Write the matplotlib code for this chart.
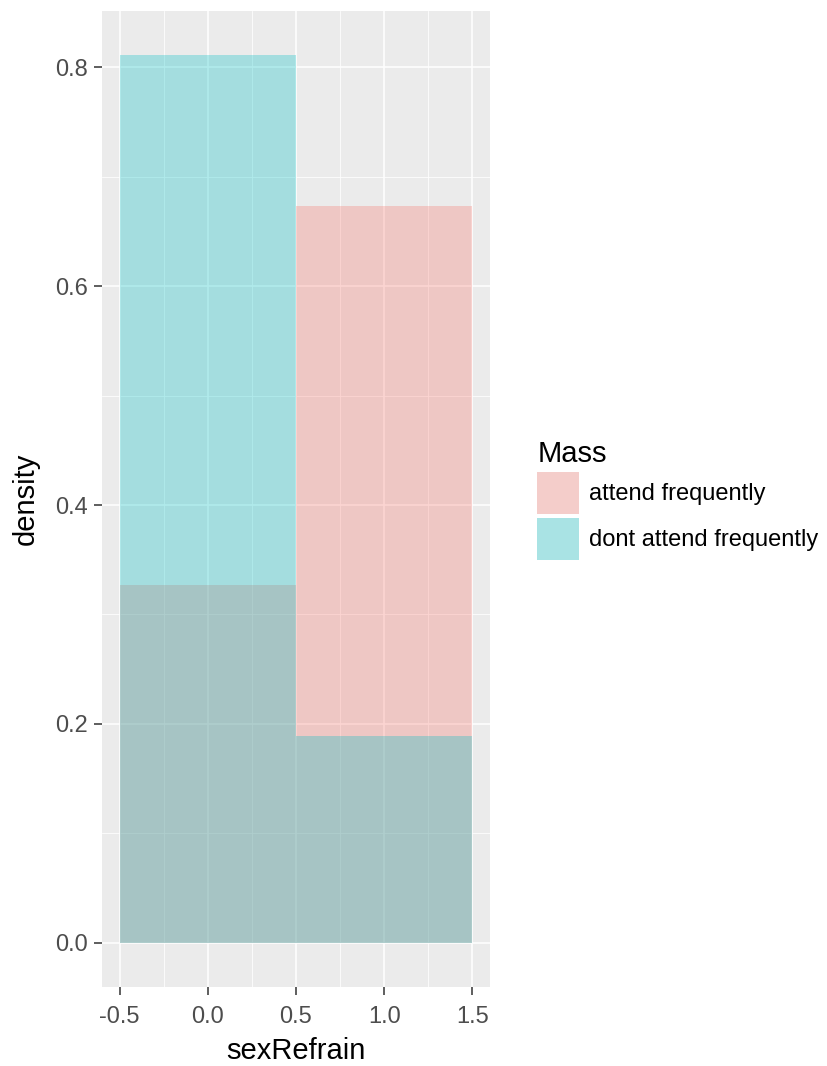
import matplotlib
matplotlib.use("Agg")
import numpy as np
import matplotlib.pyplot as plt
from matplotlib.patches import Patch

# histogram bins and densities
bin_edges = [-0.5, 0.5, 1.5]
groups = ["attend frequently", "dont attend frequently"]
attend_density = [0.327, 0.673]
dont_attend_density = [0.811, 0.189]

x_ticks = [-0.5, 0.0, 0.5, 1.0, 1.5]
y_ticks = [0.0, 0.2, 0.4, 0.6, 0.8]

pink = "#F8766D"
teal = "#00BFC4"
alpha = 0.3


def blend(hex_color, a, bg):
    c = np.array(matplotlib.colors.to_rgb(hex_color))
    b = np.array(matplotlib.colors.to_rgb(bg))
    return tuple(a * c + (1 - a) * b)


plt.rcParams['font.family'] = ['Liberation Sans', 'DejaVu Sans']

fig = plt.figure(figsize=(8.27, 10.66), dpi=100)
ax = fig.add_axes([102 / 827, 79 / 1066, 388 / 827, 976 / 1066])
ax.set_facecolor("#EBEBEB")
for s in ax.spines.values():
    s.set_visible(False)

edges = np.array(bin_edges)
widths = np.diff(edges)
ax.bar(edges[:-1], attend_density, width=widths, align='edge',
       color=pink, alpha=alpha, linewidth=0, zorder=2)
ax.bar(edges[:-1], dont_attend_density, width=widths, align='edge',
       color=teal, alpha=alpha, linewidth=0, zorder=3)

ax.set_xlim(-0.6, 1.6)
ymax = max(max(attend_density), max(dont_attend_density))
ax.set_ylim(-0.05 * ymax, 1.05 * ymax)

ax.set_xticks(x_ticks)
ax.set_xticklabels([f"{v:.1f}" for v in x_ticks])
ax.set_yticks(y_ticks)
ax.set_yticklabels([f"{v:.1f}" for v in y_ticks])
ax.set_xticks(np.arange(-0.25, 1.5, 0.5), minor=True)
ax.set_yticks(np.arange(0.1, 0.8, 0.2), minor=True)

ax.set_axisbelow(True)
ax.grid(which='major', color='white', linewidth=1.1)
ax.grid(which='minor', color='white', linewidth=0.55)
ax.tick_params(which='major', length=5.5, width=1.1, color='#333333',
               labelcolor='#4D4D4D', labelsize=17)
ax.tick_params(axis='x', which='major', pad=8)
ax.tick_params(axis='y', which='major', pad=4.5)
ax.tick_params(which='minor', length=0)

ax.set_xlabel("sexRefrain", fontsize=21, labelpad=7)
ax.set_ylabel("density", fontsize=21, labelpad=11)

handles = [Patch(facecolor=blend(pink, alpha, "#F2F2F2"), edgecolor='none'),
           Patch(facecolor=blend(teal, alpha, "#F2F2F2"), edgecolor='none')]
leg = fig.legend(handles, groups, title="Mass", loc='center left',
                 bbox_to_anchor=(528 / 827, 1 - 500 / 1066), frameon=False,
                 fontsize=17, title_fontsize=21, handlelength=1.78,
                 handleheight=2.36, handletextpad=0.42, labelspacing=0.15,
                 borderaxespad=0)
leg._legend_box.align = "left"

fig.savefig("out.png", dpi=100)
